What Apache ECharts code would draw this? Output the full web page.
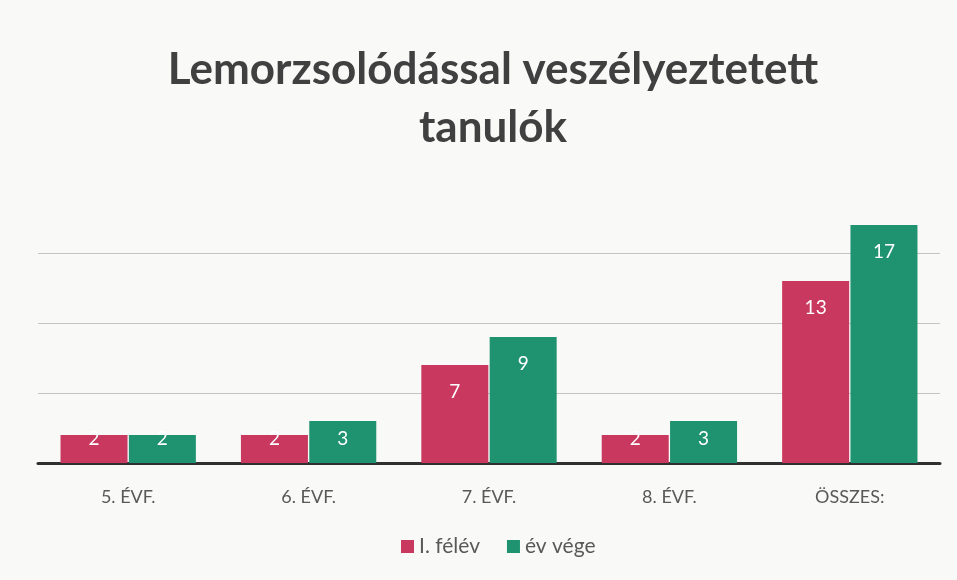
<!DOCTYPE html>
<html>
<head>
<meta charset="utf-8">
<script src="https://cdn.jsdelivr.net/npm/echarts@6/dist/echarts.min.js"></script>
<style>
  html, body { margin: 0; padding: 0; background: #f9f9f8; }
  #main { width: 957px; height: 580px; }
</style>
</head>
<body>
<div id="main"></div>
<script>
var categories = ['5. ÉVF.', '6. ÉVF.', '7. ÉVF.', '8. ÉVF.', 'ÖSSZES:'];
var felev = [2, 2, 7, 2, 13];
var evVege = [2, 3, 9, 3, 17];
var seriesNames = ['I. félév', 'év vége'];

// Excel-like "inside end" label: pushed up on short bars
function labelled(values) {
    return values.map(function (v) {
        var off = Math.min(27, v * 14 - 24);
        return { value: v, label: { position: ['50%', off] } };
    });
}

var chartDom = document.getElementById('main');
var myChart = echarts.init(chartDom);
var option;

var labelStyle = {
    show: true,
    color: '#ffffff',
    fontFamily: 'Lato',
    fontSize: 19,
    align: 'center',
    verticalAlign: 'middle'
};

option = {
    animation: false,
    backgroundColor: '#f9f9f8',
    title: {
        text: 'Lemorzsolódással veszélyeztetett\ntanulók',
        left: 488,
        textAlign: 'center',
        top: 36,
        textStyle: {
            fontFamily: 'Lato',
            fontWeight: 'bold',
            fontSize: 44,
            lineHeight: 58,
            color: '#404040'
        }
    },
    legend: {
        data: seriesNames,
        bottom: 18,
        left: 396,
        itemWidth: 13,
        itemHeight: 13,
        itemGap: 27,
        icon: 'rect',
        textStyle: {
            fontFamily: 'Lato',
            fontSize: 21,
            color: '#595959'
        }
    },
    grid: {
        left: 38,
        right: 17,
        top: 183,
        bottom: 117
    },
    xAxis: {
        type: 'category',
        data: categories,
        axisTick: { show: false },
        axisLine: { lineStyle: { color: '#303030', width: 3 } },
        axisLabel: {
            margin: 25,
            fontFamily: 'Lato',
            fontSize: 18,
            color: '#595959'
        }
    },
    yAxis: {
        type: 'value',
        min: 0,
        max: 20,
        interval: 5,
        axisLabel: { show: false },
        axisLine: { show: false },
        axisTick: { show: false },
        splitLine: {
            showMaxLine: false,
            lineStyle: { color: '#c4c4c4', width: 1 }
        }
    },
    series: [
        {
            name: seriesNames[0],
            type: 'bar',
            barWidth: 67,
            barGap: '2%',
            itemStyle: { color: '#c9385f' },
            label: labelStyle,
            data: labelled(felev)
        },
        {
            name: seriesNames[1],
            type: 'bar',
            barWidth: 67,
            barGap: '2%',
            itemStyle: { color: '#1f9270' },
            label: labelStyle,
            data: labelled(evVege)
        }
    ]
};
option && myChart.setOption(option);
</script>
</body>
</html>
